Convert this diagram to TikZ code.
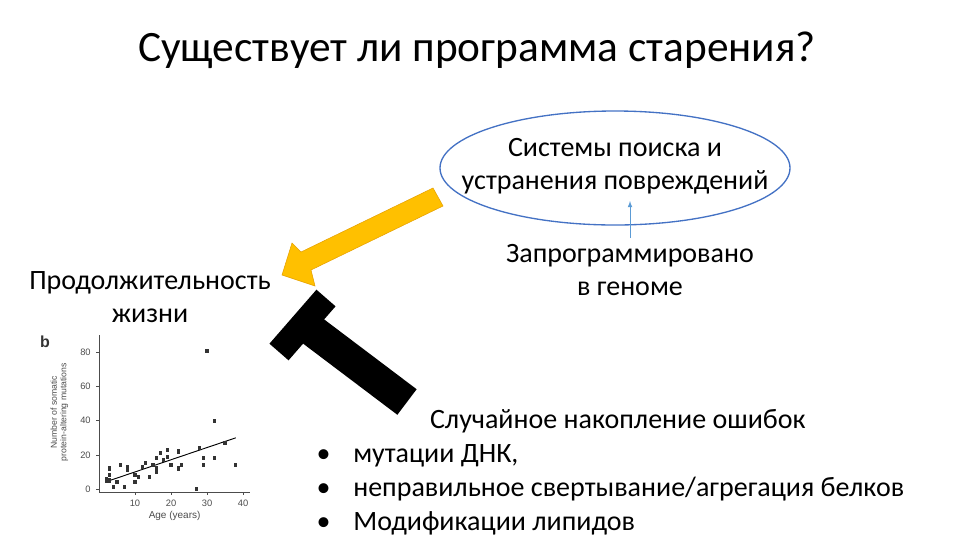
\documentclass[tikz,border=0pt]{standalone}
\usepackage{fontspec}
\setmainfont{Carlito}
\setsansfont{Liberation Sans}
\begin{document}
\begin{tikzpicture}[x=0.75pt,y=-0.75pt,
  body/.style={font=\fontsize{21}{25}\selectfont,align=center},
  ax/.style={font=\sffamily\fontsize{7}{8}\selectfont,text=black!70},
  pt/.style={fill=black!80}]
\useasboundingbox (0,0) rectangle (960,540);
\node (title) at (477,50) {\fontsize{32.5}{38}\selectfont Существует ли программа старения?};
\draw[color={rgb,255:red,68;green,114;blue,196},line width=1pt] (615,168) ellipse [x radius=175,y radius=57];
\node[body] (sys) at (615,166) {Системы поиска и\\устранения повреждений};
\node[body] (gen) at (630,270) {Запрограммировано\\в геноме};
\coordinate (ga) at (630,238);
\coordinate (gb) at (630,201);
\draw[-latex,color={rgb,255:red,91;green,155;blue,213},line width=0.6pt] (ga) -- (gb);
\node[body] (life) at (150,297) {Продолжительность\\жизни};
% yellow arrow
\fill[color={rgb,255:red,255;green,192;blue,0},draw={rgb,255:red,230;green,160;blue,0}]
 (433,188) -- (443,206) -- (311,270) -- (315,286) -- (282,275) -- (292,243) -- (301,252) -- cycle;
% black T
\draw[line width=19pt] (279,352) -- (326,298);
\draw[line width=24pt] (305,325) -- (407,402);
% bullets
\node[body,align=left,anchor=north west,font=\fontsize{21}{25.5}\selectfont] (list) at (312,405) {\hspace*{85pt}Случайное накопление ошибок\\
 •\hspace{17pt}мутации ДНК,\\ •\hspace{17pt}неправильное свертывание/агрегация белков\\ •\hspace{17pt}Модификации липидов};
% scatter plot
\begin{scope}[shift={(99,489)},x=2.7pt,y=1.28pt]
\draw[black!70,line width=0.5pt] (0,90) -- (0,-2) -- (42,-2);
\foreach \v in {0,20,40,60,80}{\draw[black!70] (-0.8,\v)--(0,\v); \node[ax,anchor=east] at (-1,\v) {\v};}
\foreach \v in {10,20,30,40}{\draw[black!70] (\v,-2)--(\v,-3.5); \node[ax,anchor=north] at (\v,-3.5) {\v};}
\node[ax,font=\sffamily\fontsize{7.5}{8}\selectfont] at (21,-16) {Age (years)};
\node[ax,rotate=90,align=center,font=\sffamily\fontsize{6.5}{7}\selectfont] at (-11,45) {Number of somatic\\protein-altering mutations};
\node[font=\sffamily\bfseries\fontsize{12}{12}\selectfont,text=black!80] at (-15,86) {b};
\draw[line width=0.7pt] (3,5) -- (38,30);
\foreach \a/\b in {2/5,2/6,3/5,3/8,3/12,4/1,5/4,6/14,7/1,8/11,8/13,10/4,10/8,11/7,12/13,13/15,14/7,15/14,16/10,16/12,16/18,17/21,18/17,19/19,19/23,20/14,22/12,22/22,23/14,27/0,28/24,29/14,29/18,30/81,32/40,32/18,35/27,38/14}
  \fill[pt] (\a-0.45,\b-1.2) rectangle (\a+0.45,\b+1.2);
\end{scope}
\end{tikzpicture}
\end{document}
